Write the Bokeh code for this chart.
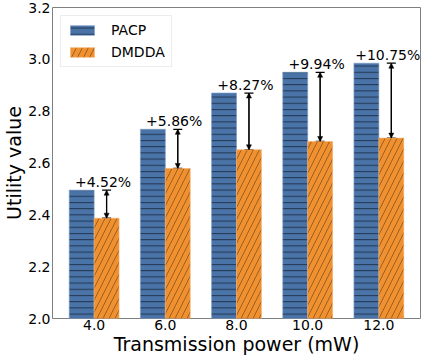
from bokeh.plotting import figure
from bokeh.models import (ColumnDataSource, Range1d, FixedTicker, Whisker, TeeHead,
                          Arrow, NormalHead, Legend, LegendItem)
from bokeh.embed import file_html
from bokeh.resources import INLINE

categories = ["4.0", "6.0", "8.0", "10.0", "12.0"]
pacp = [2.495, 2.730, 2.870, 2.950, 2.985]
dmdda = [2.387, 2.579, 2.651, 2.683, 2.696]
gain_labels = ["+4.52%", "+5.86%", "+8.27%", "+9.94%", "+10.75%"]
y_ticks = [2.0, 2.2, 2.4, 2.6, 2.8, 3.0, 3.2]

FONT = "DejaVu Sans"
BLUE = "#4a74a8"
ORANGE = "#f0902e"
w = 0.35
xs = list(range(len(categories)))

p = figure(frame_width=368, frame_height=311, output_backend="svg", toolbar_location=None,
           x_range=Range1d(-0.585, 4.585), y_range=Range1d(2.0, 3.2),
           min_border_left=0, min_border_right=2, min_border_top=7, min_border_bottom=0)
p.grid.visible = False
p.outline_line_color = "#808080"
p.outline_line_width = 1
p.background_fill_color = "white"
p.border_fill_color = "white"

src = ColumnDataSource(dict(
    x_p=[x - w / 2 for x in xs], x_d=[x + w / 2 for x in xs],
    pacp=pacp, dmdda=dmdda, lab=gain_labels,
    x_t=[x + 0.125 for x in xs],
))

r1 = p.vbar(x="x_p", top="pacp", bottom=2.0, width=w, source=src,
            fill_color=BLUE, line_color="#7a9cc6", line_width=0.6,
            hatch_pattern="horizontal_line", hatch_color="#1b2c45",
            hatch_scale=6.2, hatch_weight=1.0, hatch_alpha=0.9)
r2 = p.vbar(x="x_d", top="dmdda", bottom=2.0, width=w, source=src,
            fill_color=ORANGE, line_color="#f5b070", line_width=0.6,
            hatch_pattern="right_diagonal_line", hatch_color="#3a2a1a",
            hatch_scale=12, hatch_weight=0.6, hatch_alpha=0.8)

# difference markers
p.add_layout(Whisker(base="x_d", upper="pacp", lower="dmdda", source=src, dimension="height",
                     line_color="black", line_width=1.3,
                     upper_head=TeeHead(size=9, line_width=1.3, line_color="black"),
                     lower_head=TeeHead(size=9, line_width=1.3, line_color="black")))
p.add_layout(Arrow(x_start="x_d", y_start="dmdda", x_end="x_d", y_end="pacp", source=src,
                   line_color="black", line_width=1.0,
                   start=NormalHead(size=5, fill_color="black", line_color="black", line_width=0.5),
                   end=NormalHead(size=5, fill_color="black", line_color="black", line_width=0.5)))

p.text(x="x_t", y="pacp", text="lab", source=src, text_font={"value": FONT},
       text_font_size="14px", text_align="center", text_baseline="alphabetic",
       y_offset=-8, text_color="black")

# axes
p.xaxis.ticker = FixedTicker(ticks=xs)
p.xaxis.major_label_overrides = {i: c for i, c in enumerate(categories)}
p.yaxis.ticker = FixedTicker(ticks=y_ticks)
p.yaxis.major_label_overrides = {t: f"{t:.1f}" for t in y_ticks}
for ax in (p.xaxis[0], p.yaxis[0]):
    ax.axis_line_color = None
    ax.major_tick_line_color = None
    ax.minor_tick_line_color = None
    ax.major_tick_out = 0
    ax.major_tick_in = 0
    ax.major_label_text_font = FONT
    ax.major_label_text_font_size = "14px"
    ax.major_label_text_color = "black"
    ax.axis_label_text_font = FONT
    ax.axis_label_text_font_size = "19px"
    ax.axis_label_text_font_style = "normal"
    ax.axis_label_text_color = "black"
    ax.major_label_standoff = 2
    ax.axis_label_standoff = 0
p.xaxis.major_label_standoff = 1
p.xaxis.axis_label = "Transmission power (mW)"
p.yaxis.axis_label = "Utility value"

legend = Legend(items=[LegendItem(label="PACP", renderers=[r1]),
                       LegendItem(label="DMDDA", renderers=[r2])],
                location="top_left", margin=8, padding=6, spacing=6,
                glyph_width=30, glyph_height=12, label_standoff=14,
                label_text_font=FONT, label_text_font_size="14px",
                label_text_color="black",
                border_line_color="#d9d9d9", border_line_width=1,
                background_fill_color="white", background_fill_alpha=0.8)
p.add_layout(legend)

open("out.html", "w").write(file_html(p, INLINE))
